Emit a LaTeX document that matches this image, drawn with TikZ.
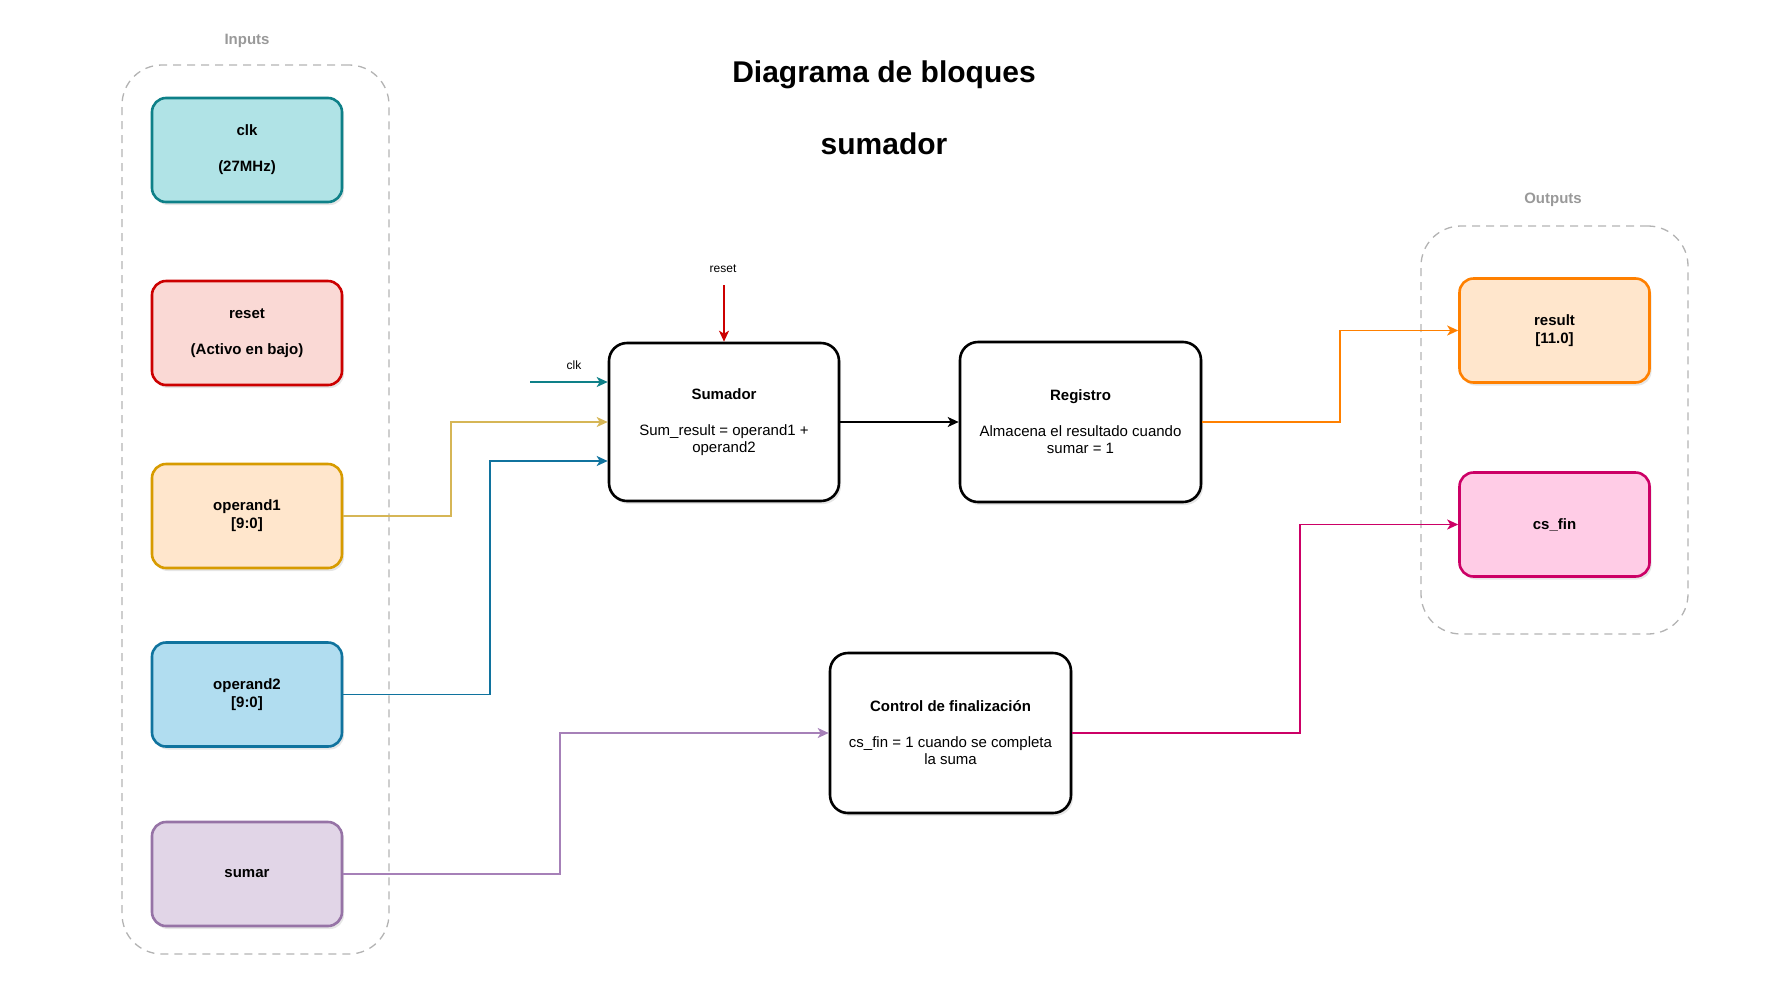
\documentclass[tikz,border=0pt]{standalone}
\usepackage{fontspec}
\setmainfont{Liberation Sans}
\usepackage{xcolor}
\usetikzlibrary{arrows.meta,shadows}
\definecolor{clkfill}{HTML}{B0E3E6}
\definecolor{clkline}{HTML}{0E8088}
\definecolor{rstfill}{HTML}{FAD9D5}
\definecolor{rstline}{HTML}{CC0000}
\definecolor{opafill}{HTML}{FFE6CC}
\definecolor{opaline}{HTML}{D79B00}
\definecolor{opawire}{HTML}{D6B656}
\definecolor{opbfill}{HTML}{B1DDF0}
\definecolor{opbline}{HTML}{10739E}
\definecolor{sumfill}{HTML}{E1D5E7}
\definecolor{sumline}{HTML}{9673A6}
\definecolor{sumwire}{HTML}{A680B8}
\definecolor{resline}{HTML}{FF8000}
\definecolor{finfill}{HTML}{FFCCE6}
\definecolor{finline}{HTML}{CC0066}
\definecolor{groupline}{HTML}{B3B3B3}
\definecolor{grouptext}{HTML}{999999}
\newcommand{\portfont}{\fontsize{15}{18}\selectfont\bfseries}
\newcommand{\blockfont}{\fontsize{15}{17}\selectfont}

\begin{document}
\begin{tikzpicture}[x=1pt, y=-1pt, >={Stealth[length=11pt,width=10pt,inset=3pt]},
  port/.style={draw=#1, rounded corners=14pt, line width=2.6pt,
    minimum width=190pt, minimum height=104pt, align=center, font=\portfont,
    drop shadow={shadow xshift=2pt, shadow yshift=-3pt, opacity=0.2}},
  block/.style={draw=black, fill=white, rounded corners=18pt, line width=2.6pt,
    minimum width=#1, minimum height=160pt, align=center, font=\blockfont,
    drop shadow={shadow xshift=2pt, shadow yshift=-3pt, opacity=0.2}},
  group/.style={draw=groupline, dash pattern=on 8pt off 6pt, rounded corners=40pt, line width=1.3pt},
  grouplabel/.style={text=grouptext, font=\portfont},
  wire/.style={->, line width=1.9pt},
  tag/.style={font=\fontsize{12}{14}\selectfont}]
  \useasboundingbox (0,0) rectangle (1788,1002);
  % Title
  \node[font=\fontsize{30}{36}\selectfont\bfseries, align=center] (title) at (884,108)
    {Diagrama de bloques\\[36pt]sumador};
  % Inputs
  \node[group, minimum width=267pt, minimum height=889pt] (inputs) at (255.5,509.5) {};
  \node[grouplabel] (inlbl) at (247,41) {Inputs};
  \node[port=clkline, fill=clkfill] (clk) at (247,150) {clk\\[18pt](27MHz)};
  \node[port=rstline, fill=rstfill] (reset) at (247,333) {reset\\[18pt](Activo en bajo)};
  \node[port=opaline, fill=opafill] (op1) at (247,516) {operand1\\{[9:0]}};
  \node[port=opbline, fill=opbfill] (op2) at (247,694.5) {operand2\\{[9:0]}};
  \node[port=sumline, fill=sumfill] (sumar) at (247,874) {sumar};
  % Outputs
  \node[group, minimum width=267pt, minimum height=408pt] (outputs) at (1554.5,430) {};
  \node[grouplabel] (outlbl) at (1553,200) {Outputs};
  \node[port=resline, fill=opafill] (result) at (1554.5,330.5) {result\\{[11.0]}};
  \node[port=finline, fill=finfill] (csfin) at (1554.5,524.5) {cs\_fin};
  % Blocks
  \node[block=230pt, minimum height=158pt] (sumador) at (724,422)
    {\textbf{Sumador}\\[19pt]Sum\_result = operand1 +\\operand2};
  \node[block=241pt] (registro) at (1080.5,422)
    {\textbf{Registro}\\[19pt]Almacena el resultado cuando\\sumar = 1};
  \node[block=241pt] (control) at (950.5,733)
    {\textbf{Control de finalizaci\'on}\\[19pt]cs\_fin = 1 cuando se completa\\la suma};
  % Clock and reset
  \coordinate (clkin) at (530,382);
  \coordinate (rstin) at (724,285);
  \node[tag] (clktag) at (574,365) {clk};
  \node[tag] (rsttag) at (723,269) {reset};
  \draw[wire, clkline] (clkin) -- ([yshift=40pt]sumador.west);
  \draw[wire, rstline] (rstin) -- (sumador.north);
  % Wires
  \draw[wire, opawire] (op1.east) -- ++(108,0) |- (sumador.west);
  \draw[wire, opbline] (op2.east) -- ++(147,0) |- ([yshift=-39pt]sumador.west);
  \draw[wire, sumwire] (sumar.east) -- ++(217,0) |- (control.west);
  \draw[wire, black] (sumador.east) -- (registro.west);
  \draw[wire, resline] (registro.east) -- ++(138,0) |- (result.west);
  \draw[wire, finline] (control.east) -- ++(228,0) |- (csfin.west);
\end{tikzpicture}
\end{document}
